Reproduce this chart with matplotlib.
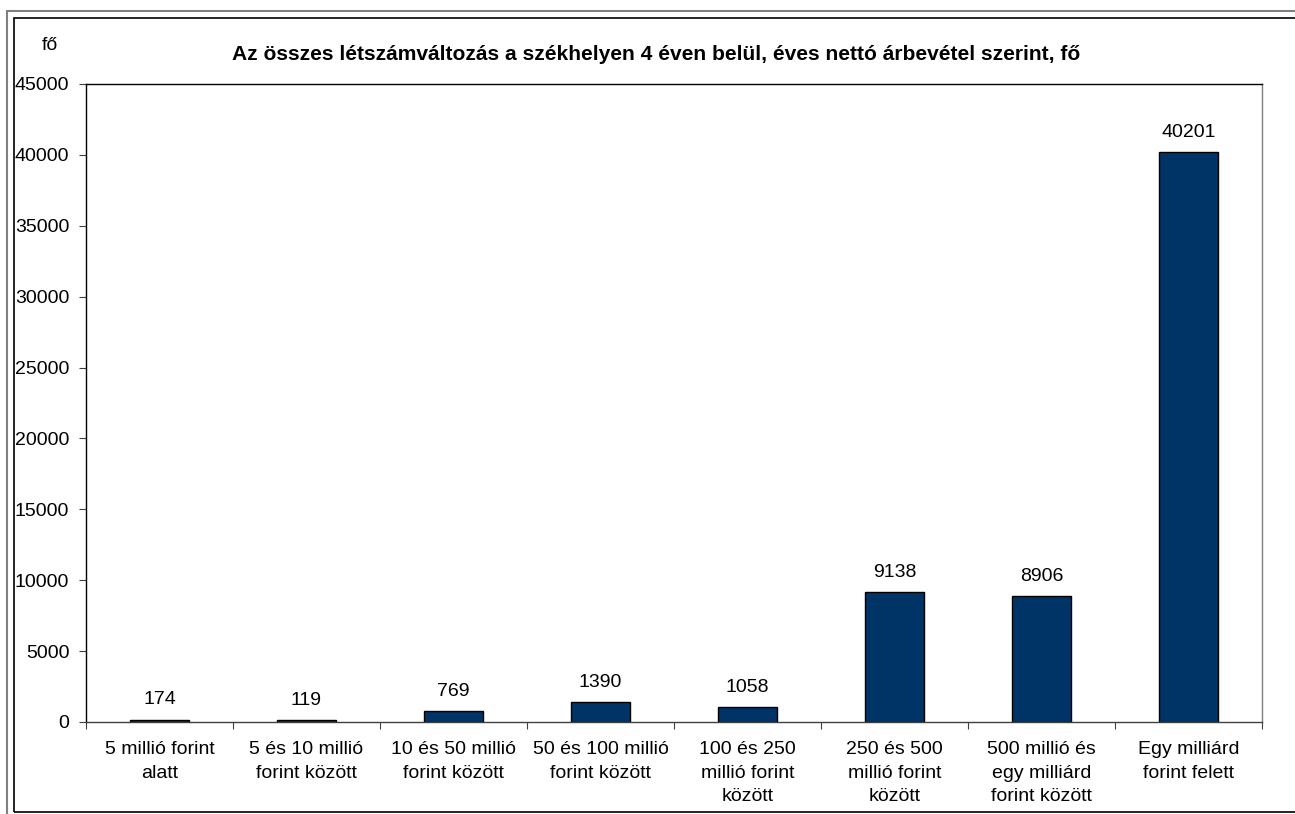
import matplotlib
matplotlib.use("Agg")
import matplotlib.pyplot as plt
from matplotlib.patches import Rectangle

plt.rcParams['font.family'] = ['Liberation Sans', 'DejaVu Sans']

categories = ["5 millió forint\nalatt", "5 és 10 millió\nforint között",
              "10 és 50 millió\nforint között", "50 és 100 millió\nforint között",
              "100 és 250\nmillió forint\nközött", "250 és 500\nmillió forint\nközött",
              "500 millió és\negy milliárd\nforint között", "Egy milliárd\nforint felett"]
values = [174, 119, 769, 1390, 1058, 9138, 8906, 40201]
yticks = [0, 5000, 10000, 15000, 20000, 25000, 30000, 35000, 40000, 45000]
title = "Az összes létszámváltozás a székhelyen 4 éven belül, éves nettó árbevétel szerint, fő"

W, H = 1295, 814
fs = 14
fig = plt.figure(figsize=(W / 100, H / 100), dpi=100)

# double frame round the chart
fig.patches.append(Rectangle((7 / W, -0.05), 1.1, 1 - 11 / H + 0.05, transform=fig.transFigure,
                             fill=False, edgecolor='#808080', lw=1.5))
fig.patches.append(Rectangle((14 / W, 1 - 812 / H), 1.1, (812 - 18) / H, transform=fig.transFigure,
                             fill=False, edgecolor='black', lw=1.2))

ax = fig.add_axes([86 / W, 1 - 722 / H, (1262 - 86) / W, (722 - 84) / H])
x = list(range(len(values)))
ax.bar(x, values, width=0.4, color='#003366', edgecolor='black', linewidth=1)

for xi, v in zip(x, values):
    ax.annotate(str(v), (xi, v), xytext=(0, 8), textcoords='offset points',
                ha='center', va='bottom', fontsize=fs)

ax.set_xlim(-0.5, len(values) - 0.5)
ax.set_ylim(0, 45000)
ax.set_yticks(yticks)
ax.set_yticklabels([str(t) for t in yticks], fontsize=fs)
ax.set_xticks([i + 0.5 for i in range(-1, len(values))], minor=False)
ax.set_xticklabels([])
ax.set_xticks(x, minor=True)
ax.set_xticklabels(categories, minor=True, fontsize=fs, linespacing=1.5)
ax.tick_params(axis='x', which='major', direction='out', length=5, color='#404040')
ax.tick_params(axis='x', which='minor', length=0, pad=14)
ax.tick_params(axis='y', direction='out', length=5, pad=7, color='#404040')

ax.spines['top'].set_color('black')
ax.spines['left'].set_color('black')
ax.spines['right'].set_color('#808080')
ax.spines['bottom'].set_color('#404040')
for s in ax.spines.values():
    s.set_linewidth(1)

fig.text(656 / W, 1 - 55 / H, title, ha='center', va='center', fontsize=15.1, fontweight='bold')
fig.text(50 / W, 1 - 46 / H, "fő", ha='center', va='center', fontsize=fs)

fig.savefig("out.png", dpi=100)
